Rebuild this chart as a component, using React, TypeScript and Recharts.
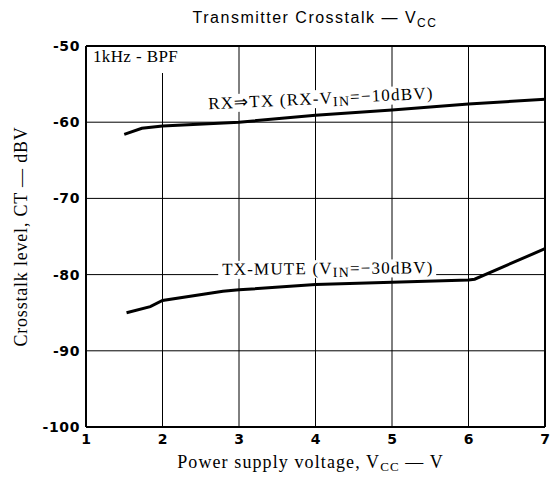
import {
  CartesianGrid,
  Line,
  LineChart,
  ReferenceDot,
  ReferenceLine,
  XAxis,
  YAxis
} from "recharts";

const serif = "'Liberation Serif', 'Times New Roman', serif";
const sans = "'Liberation Sans', Arial, sans-serif";
const tickFont = "'DejaVu Sans', Verdana, sans-serif";

// RX => TX crosstalk (RX-VIN = -10dBV)
const rxVcc = [1.5, 1.73, 2, 3, 4, 5, 6, 7];
const rxCrosstalk = [-61.6, -60.8, -60.5, -60.0, -59.1, -58.4, -57.6, -57.0];

// TX-MUTE (VIN = -30dBV)
const muteVcc = [1.53, 1.84, 2, 2.79, 3, 4, 5, 6, 6.08, 7];
const muteCrosstalk = [-85.0, -84.2, -83.4, -82.2, -82.0, -81.3, -81.0, -80.7, -80.6, -76.6];

const xTicks = [1, 2, 3, 4, 5, 6, 7];
const yTicks = [-100, -90, -80, -70, -60, -50];

const rxData = rxVcc.map((vcc, i) => ({ vcc, ct: rxCrosstalk[i] }));
const muteData = muteVcc.map((vcc, i) => ({ vcc, ct: muteCrosstalk[i] }));

type ShapeProps = { cx?: number; cy?: number };

const rxLabel = ({ cx = 0, cy = 0 }: ShapeProps) => (
  <g transform={`rotate(-2.7 ${cx} ${cy})`}>
    <rect x={cx - 3} y={cy - 14} width={238} height={18} fill="#fff" />
    <text x={cx} y={cy} fontFamily={serif} fontSize={17} letterSpacing={1.2} fill="#000">
      RX⇒TX (RX-V
      <tspan dy={3} fontSize={14}>IN</tspan>
      <tspan dy={-3}>=−10dBV)</tspan>
    </text>
  </g>
);

const muteLabel = ({ cx = 0, cy = 0 }: ShapeProps) => (
  <g transform={`rotate(-0.5 ${cx} ${cy})`}>
    <rect x={cx - 4} y={cy - 14} width={218} height={18} fill="#fff" />
    <text x={cx} y={cy} fontFamily={serif} fontSize={17} letterSpacing={1.2} fill="#000">
      TX-MUTE (V
      <tspan dy={3} fontSize={14}>IN</tspan>
      <tspan dy={-3}>=−30dBV)</tspan>
    </text>
  </g>
);

const filterLabel = ({ cx = 0, cy = 0 }: ShapeProps) => (
  <g>
    <rect x={cx - 4} y={cy - 15} width={92} height={26} fill="#fff" />
    <text x={cx} y={cy} fontFamily={serif} fontSize={17} letterSpacing={0.4} fill="#000">
      1kHz - BPF
    </text>
  </g>
);

const xTitle = (props: any) => {
  const { x, width } = props.viewBox;
  return (
    <text
      x={x + width / 2 - 5}
      y={468}
      textAnchor="middle"
      fontFamily={serif}
      fontSize={18}
      letterSpacing={1.1}
      fill="#000"
    >
      Power supply voltage, V
      <tspan dy={3} fontSize={13}>CC</tspan>
      <tspan dy={-3}> — V</tspan>
    </text>
  );
};

const yTitle = (props: any) => {
  const { y, height } = props.viewBox;
  const cx = 27;
  const cy = y + height / 2;
  return (
    <text
      x={cx}
      y={cy}
      transform={`rotate(-90 ${cx} ${cy})`}
      textAnchor="middle"
      fontFamily={serif}
      fontSize={18}
      letterSpacing={0.8}
      fill="#000"
    >
      Crosstalk level, CT — dBV
    </text>
  );
};

export default function App() {
  return (
    <div style={{ position: "absolute", left: 0, top: 0, width: 553, height: 477, background: "#fff" }}>
      <div
        style={{
          position: "absolute",
          top: 9,
          left: 0,
          width: 630,
          textAlign: "center",
          fontFamily: sans,
          fontSize: 16,
          letterSpacing: 1.5,
          lineHeight: "18px",
          color: "#000"
        }}
      >
        Transmitter Crosstalk — V<sub style={{ fontSize: 12 }}>CC</sub>
      </div>
      <LineChart width={553} height={477} margin={{ top: 46, right: 8, bottom: 0, left: 0 }}>
        <CartesianGrid stroke="#000" strokeWidth={1} />
        <XAxis
          type="number"
          dataKey="vcc"
          domain={[1, 7]}
          ticks={xTicks}
          height={50}
          tickLine={false}
          tickSize={4}
          tickMargin={3}
          axisLine={{ stroke: "#000", strokeWidth: 2 }}
          tick={{ fill: "#000", fontSize: 14, fontWeight: "bold", fontFamily: tickFont }}
          label={{ content: xTitle }}
        />
        <YAxis
          type="number"
          domain={[-100, -50]}
          ticks={yTicks}
          width={86}
          tickLine={false}
          tickSize={4}
          tickMargin={2}
          axisLine={{ stroke: "#000", strokeWidth: 2 }}
          tick={{ fill: "#000", fontSize: 14, fontWeight: "bold", fontFamily: tickFont, letterSpacing: 0.6 }}
          label={{ content: yTitle }}
        />
        <ReferenceLine y={-50} stroke="#000" strokeWidth={2} />
        <ReferenceLine x={7} stroke="#000" strokeWidth={2} />
        <ReferenceDot x={1.09} y={-52.1} r={0} shape={filterLabel} />
        <ReferenceDot x={2.6} y={-58.3} r={0} shape={rxLabel} />
        <ReferenceDot x={2.78} y={-80.05} r={0} shape={muteLabel} />
        <Line
          data={rxData}
          dataKey="ct"
          stroke="#000"
          strokeWidth={3}
          dot={false}
          isAnimationActive={false}
        />
        <Line
          data={muteData}
          dataKey="ct"
          stroke="#000"
          strokeWidth={3}
          dot={false}
          isAnimationActive={false}
        />
      </LineChart>
    </div>
  );
}
